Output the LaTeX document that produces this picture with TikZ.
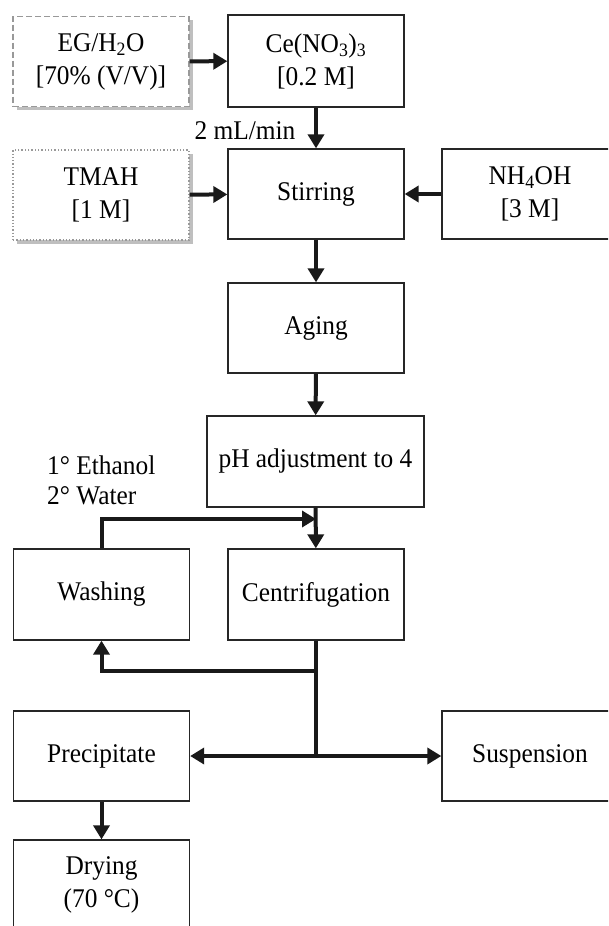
\documentclass[tikz,border=0pt]{standalone}
\usepackage{fontspec}
\setmainfont[FakeStretch=0.94]{Liberation Serif}
\usetikzlibrary{arrows.meta,shadows}
\begin{document}
\begin{tikzpicture}[x=1pt,y=-1pt,
  box/.style={draw=black!85, line width=1.3pt, fill=white, minimum width=176pt, minimum height=90pt,
    align=center, inner sep=2pt, font=\fontsize{27}{33}\selectfont},
  dashbox/.style={box, draw=black!40, dash pattern=on 6pt off 3pt,
    drop shadow={shadow xshift=3.5pt, shadow yshift=-3.5pt, fill=black!25, opacity=1}},
  dotbox/.style={box, draw=black!40, dash pattern=on 1.3pt off 2pt,
    drop shadow={shadow xshift=3.5pt, shadow yshift=-3.5pt, fill=black!25, opacity=1}},
  arr/.style={draw=black!90, line width=4pt, -{Triangle[width=16pt,length=14pt]}},
  flow/.style={draw=black!90, line width=4pt},
  lbl/.style={font=\fontsize{27}{30}\selectfont, inner sep=0pt}
]
\path[use as bounding box, clip] (0,0) rectangle (608,926);
\fill[white] (0,0) rectangle (608,926);

\node[dashbox] (eg) at (101,61.5) {EG/H\textsubscript{2}O\\{}[70\% (V/V)]};
\node[box, minimum height=92pt] (ce) at (316,61) {Ce(NO\textsubscript{3})\textsubscript{3}\\{}[0.2 M]};
\node[dotbox] (tmah) at (101,195) {TMAH\\{}[1 M]};
\node[box] (stir) at (316,194) {Stirring};
\node[box] (nh) at (530,194) {NH\textsubscript{4}OH\\{}[3 M]};
\node[box] (aging) at (316,328) {Aging};
\node[box, minimum width=217pt, minimum height=91pt] (ph) at (315.5,461.5) {pH adjustment to 4};
\node[box, minimum height=91pt] (wash) at (101.5,594.5) {Washing};
\node[box, minimum height=91pt] (cent) at (316,594.5) {Centrifugation};
\node[box] (prec) at (101.5,756) {Precipitate};
\node[box] (susp) at (530,756) {Suspension};
\node[box] (dry) at (101.5,885) {Drying\\(70 °C)};

\node[lbl] (rate) at (245,131) {2 mL/min};
\node[lbl, align=left, anchor=west] (wash lbl) at (47,480) {1° Ethanol\\2° Water};

\coordinate (wj) at (316,519);
\coordinate (bj) at (316,671);
\coordinate (sj) at (316,756);

\draw[arr] (eg) -- (ce);
\draw[arr] (ce) -- (stir);
\draw[arr] (tmah) -- (stir);
\draw[arr] (nh) -- (stir);
\draw[arr] (stir) -- (aging);
\draw[arr] (aging) -- (ph);
\draw[arr] (ph) -- (cent);
\draw[arr] (wash.north) |- (wj);
\draw[flow] (cent.south) -- (sj);
\draw[arr] (bj) -| (wash.south);
\draw[arr] (sj) -- (prec.east);
\draw[arr] (sj) -- (susp.west);
\draw[arr] (prec) -- (dry);
\end{tikzpicture}
\end{document}
